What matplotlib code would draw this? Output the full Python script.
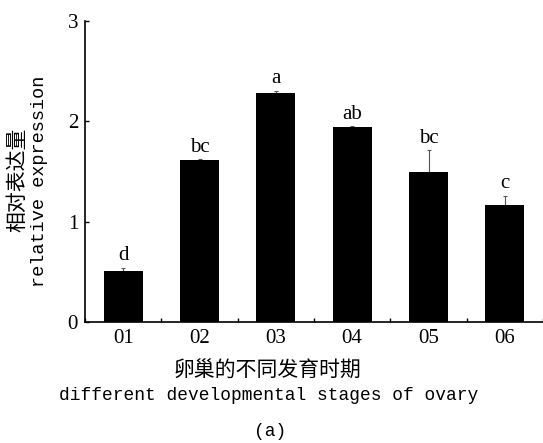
import matplotlib
matplotlib.use("Agg")
import matplotlib.pyplot as plt
from matplotlib.ticker import MultipleLocator

# data
stages = ["01", "02", "03", "04", "05", "06"]
expression = [0.51, 1.61, 2.28, 1.94, 1.50, 1.17]
err = [0.03, 0.01, 0.02, 0.01, 0.21, 0.09]
letters = ["d", "bc", "a", "ab", "bc", "c"]

serif = ["Liberation Serif", "DejaVu Serif"]
mono = ["Liberation Mono", "DejaVu Sans Mono"]
cjk = ["Noto Sans CJK SC", "DejaVu Sans"]

fig = plt.figure(figsize=(5.43, 4.43), dpi=100)
ax = fig.add_axes([85 / 543, 1 - 322 / 443, 1 - 85 / 543, (322 - 21) / 443])

x = list(range(len(stages)))
ax.bar(x, expression, width=0.51, color="black", zorder=2)
ax.errorbar(x, expression, yerr=[[0] * len(err), err], fmt="none",
            ecolor="#555555", elinewidth=0.8, capsize=1.5, capthick=0.8, zorder=1)

for xi, v, e, lab in zip(x, expression, err, letters):
    ax.annotate(lab, (xi, v + e), xytext=(0, 2), textcoords="offset points",
                ha="center", va="bottom", fontsize=15, family=serif)

ax.set_xlim(-0.5, 5.5)
ax.set_ylim(0, 3)
ax.set_xticks(x)
ax.set_xticklabels(stages, family=serif, fontsize=15)
ax.xaxis.set_minor_locator(MultipleLocator(1, offset=0.5))
ax.set_yticks([0, 1, 2, 3])
ax.set_yticklabels(["0", "1", "2", "3"], family=serif, fontsize=15)

ax.tick_params(axis="x", which="major", length=0, pad=5)
ax.tick_params(axis="x", which="minor", direction="in", length=3, width=1)
ax.tick_params(axis="y", direction="in", length=3, width=1, pad=5)

for s in ["top", "right"]:
    ax.spines[s].set_visible(False)
for s in ["left", "bottom"]:
    ax.spines[s].set_linewidth(1.2)

# axis titles (two lines, Chinese + English)
fig.text(17 / 543, 1 - 180 / 443, "相对表达量", rotation=90, ha="center", va="center",
         fontsize=15, family=cjk)
fig.text(40 / 543, 1 - 181 / 443, "relative expression", rotation=90, ha="center",
         va="center", fontsize=13.4, family=mono)
fig.text(268 / 543, 1 - 370 / 443, "卵巢的不同发育时期", ha="center", va="center",
         fontsize=15, family=cjk)
fig.text(269 / 543, 1 - 395 / 443, "different developmental stages of ovary",
         ha="center", va="center", fontsize=12.9, family=mono)
fig.text(270 / 543, 1 - 432 / 443, "(a)", ha="center", va="center",
         fontsize=13, family=mono)

fig.savefig("out.png", dpi=100)
